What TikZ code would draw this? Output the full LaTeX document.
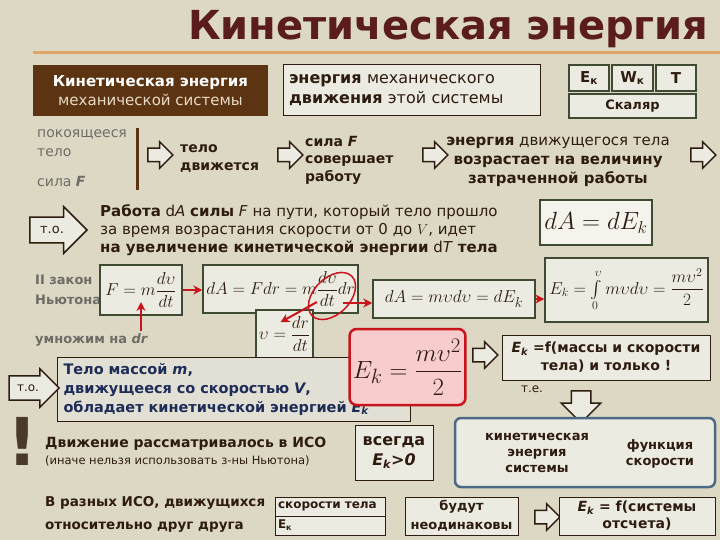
\documentclass[tikz,border=0pt]{standalone}
\usepackage{amsmath}
\usepackage{fontspec}
\setmainfont{DejaVu Sans}
\usetikzlibrary{shapes.arrows,shapes.geometric,arrows.meta}
\definecolor{bgc}{HTML}{DCD8C4}
\definecolor{titc}{HTML}{5A1C1C}
\definecolor{linc}{HTML}{E0A464}
\definecolor{brnc}{HTML}{5C3412}
\definecolor{lbrc}{HTML}{E8DCC8}
\definecolor{boxc}{HTML}{ECEBE2}
\definecolor{whtc}{HTML}{F4F3EC}
\definecolor{tbxc}{HTML}{E2E0D4}
\definecolor{frmc}{HTML}{3F4A32}
\definecolor{txtc}{HTML}{2E1C10}
\definecolor{gryc}{HTML}{6E6C66}
\definecolor{redc}{HTML}{C8141C}
\definecolor{pnkc}{HTML}{F8CCCC}
\definecolor{navc}{HTML}{1E2C58}
\definecolor{bluc}{HTML}{4C6A86}
\definecolor{exclc}{HTML}{4A3A2A}
\tikzset{
	plate/.style={draw=frmc,line width=1.5pt,fill=boxc,inner sep=2pt},
	cellbox/.style={draw=txtc,line width=1pt,fill=boxc,inner sep=2pt},
	hollow/.style={single arrow,draw=txtc,fill=boxc,line width=1.5pt,inner xsep=0pt,inner ysep=6pt,minimum height=25pt,single arrow head extend=6.5pt},
	redarr/.style={draw=redc,line width=2pt,-{Stealth[length=9pt,width=9pt]}},
	lbl/.style={inner sep=0pt,align=left,anchor=west},
}
\begin{document}
\begin{tikzpicture}[x=1pt,y=-1pt,every node/.append style={text=txtc}]
	\fill[bgc] (0,0) rectangle (720,540);
	\useasboundingbox (0,0) rectangle (720,540);
	\node[anchor=east,text=titc,font=\fontsize{40}{45}\selectfont\bfseries] (title) at (712,29) {Кинетическая энергия};
	\draw[linc,line width=3pt] (33,53) -- (720,53);
	\node[fill=brnc,minimum width=235,minimum height=51,align=center,text=white,font=\fontsize{15}{19}\selectfont] (kin) at (150.5,90.5) {\textbf{Кинетическая энергия}\\\textcolor{lbrc}{механической системы}};
	\node[cellbox,minimum width=257,minimum height=51,text width=245,align=left,font=\fontsize{16}{20}\selectfont] (mech) at (411.5,90.5) {\textbf{энергия} механического\\\textbf{движения} этой системы};
	\node[plate,minimum width=40,minimum height=26,font=\fontsize{15}{18}\selectfont\bfseries] (ek) at (589,78) {E\textsubscript{к}};
	\node[plate,minimum width=41,minimum height=26,font=\fontsize{15}{18}\selectfont\bfseries] (wk) at (632.5,78) {W\textsubscript{к}};
	\node[plate,minimum width=40,minimum height=26,font=\fontsize{15}{18}\selectfont\bfseries] (tt) at (676,78) {T};
	\node[plate,minimum width=127,minimum height=24,font=\fontsize{13}{16}\selectfont\bfseries] (scal) at (632.5,106) {Скаляр};

	\node[lbl,text=gryc,font=\fontsize{14}{19}\selectfont] (rest) at (37,143) {покоящееся\\тело};
	\node[lbl,text=gryc,font=\fontsize{14}{19}\selectfont] (force) at (37,181) {сила \textbf{\textit{F}}};
	\draw[brnc,line width=3pt] (137,128) -- (137,190);
	\node[hollow] (a1) at (157,155) {};
	\node[lbl,font=\fontsize{14}{18}\selectfont\bfseries] (moves) at (180,159) {тело\\движется};
	\node[hollow] (a2) at (287,155) {};
	\node[lbl,font=\fontsize{14}{17.5}\selectfont\bfseries] (work) at (305,160) {сила \textit{F}\\совершает\\работу};
	\node[hollow] (a3) at (432,155) {};
	\node[align=center,font=\fontsize{15}{19}\selectfont] (grow) at (558,162) {\textbf{энергия} движущегося тела\\\textbf{возрастает на величину}\\\textbf{затраченной работы}};
	\node[hollow] (a4) at (700,155) {};

	\node[hollow,minimum height=57,inner ysep=8.5pt,inner xsep=4pt,single arrow head extend=10.5pt,font=\fontsize{13}{15}\selectfont] (to1) at (52,230) {т.о.};
	\node[lbl,font=\fontsize{15}{18}\selectfont] (dawork) at (100,230) {\textbf{Работа} d\textit{A} \textbf{силы} \textit{F} на пути, который тело прошло\\за время возрастания скорости от 0 до $V$, идет\\\textbf{на увеличение кинетической энергии} d\textit{T} \textbf{тела}};
	\node[plate,fill=whtc,minimum width=112,minimum height=45,font=\fontsize{24}{28}\selectfont] (dade) at (596,222.5) {$dA=dE_k$};

	\node[lbl,text=gryc,font=\fontsize{13}{20}\selectfont\bfseries] (newton) at (35,290) {II закон\\Ньютона};
	\node[lbl,text=gryc,font=\fontsize{13}{18}\selectfont\bfseries] (mult) at (35,340) {умножим на \textit{dr}};
	\node[plate,minimum width=82,minimum height=50,font=\fontsize{19}{23}\selectfont] (fm) at (141,290) {$F=m\dfrac{d\upsilon}{dt}$};
	\node[plate,minimum width=155,minimum height=48,font=\fontsize{17}{21}\selectfont] (fdr) at (280.5,289) {$dA=Fdr=m\dfrac{d\upsilon}{dt}dr$};
	\node[plate,minimum width=57,minimum height=48,font=\fontsize{17}{21}\selectfont] (vel) at (284.5,334) {$\upsilon=\dfrac{dr}{dt}$};
	\node[plate,minimum width=162,minimum height=38,font=\fontsize{19}{23}\selectfont] (dam) at (454,299) {$dA=m\upsilon d\upsilon=dE_k$};
	\node[plate,minimum width=163,minimum height=64,font=\fontsize{17}{21}\selectfont] (intg) at (626.5,290) {$E_k=\int\limits_0^{\upsilon}m\upsilon d\upsilon=\dfrac{m\upsilon^2}{2}$};
	\node[ellipse,draw=redc,line width=1.5pt,minimum width=56,minimum height=36,rotate=45] (loop) at (332,296) {};
	\coordinate (multop) at (141,331);
	\coordinate (mtip) at (141,302);
	\draw[redarr] (multop) -- (mtip);
	\draw[redarr] (fm.east) -- (fm.east -| fdr.west);
	\coordinate (loopin) at (317,302);
	\draw[redarr] (loopin) -- ([shift={(-4,13)}]vel.north);
	\coordinate (loopout) at (343,303);
	\draw[redarr] (loopout) -- (loopout -| dam.west);
	\draw[redarr] (dam.east) -- (dam.east -| intg.west);

	\node[draw=txtc,line width=1pt,fill=tbxc,minimum width=353,minimum height=64,text width=340,align=left,text=navc,font=\fontsize{14.5}{19}\selectfont\bfseries] (body) at (233.5,389) {Тело массой \textit{m},\\движущееся со скоростью \textit{V},\\обладает кинетической энергией \textit{E\textsubscript{k}}};
	\node[hollow,minimum height=50,inner ysep=8pt,inner xsep=3pt,single arrow head extend=7pt,font=\fontsize{12}{14}\selectfont] (to2) at (28,388) {т.о.};
	\node[draw=redc,line width=2.5pt,fill=pnkc,rounded corners=7pt,minimum width=115,minimum height=76,font=\fontsize{28}{32}\selectfont] (ekf) at (407.5,367) {$E_k=\dfrac{m\upsilon^2}{2}$};
	\node[hollow] (a5) at (482,355) {};
	\node[cellbox,minimum width=208,minimum height=45,align=center,font=\fontsize{14}{18}\selectfont\bfseries] (fmass) at (606,357.5) {\textit{E\textsubscript{k}} =f(массы и скорости\\тела) и только !};
	\node[font=\fontsize{12}{14}\selectfont] (ie) at (532,389) {т.е.};
	\node[hollow,rotate=-90,minimum height=32,inner ysep=9pt,single arrow head extend=10pt] (a7) at (581,402) {};

	\node[text=exclc,font=\fontsize{66}{70}\selectfont\bfseries] (excl) at (23,441) {!};
	\node[lbl,font=\fontsize{14}{17}\selectfont\bfseries] (iso) at (45,444) {Движение рассматривалось в ИСО};
	\node[lbl,font=\fontsize{11.5}{14}\selectfont] (iso2) at (45,461) {(иначе нельзя использовать з-ны Ньютона)};
	\node[cellbox,minimum width=78,minimum height=55,align=center,font=\fontsize{16}{20}\selectfont\bfseries] (always) at (394,452.5) {всегда\\\textit{E\textsubscript{k}>0}};
	\node[draw=bluc,line width=2.5pt,fill=boxc,rounded corners=6pt,minimum width=260,minimum height=69] (sysb) at (585,452.5) {};
	\node[align=center,font=\fontsize{13}{16}\selectfont\bfseries] (kes) at (537,453) {кинетическая\\энергия\\системы};
	\node[align=center,font=\fontsize{13}{16}\selectfont\bfseries] (fsp) at (660,454) {функция\\скорости};

	\node[lbl,font=\fontsize{13.5}{23}\selectfont\bfseries] (frames) at (45,514.5) {В разных ИСО, движущихся\\относительно друг друга};
	\node[cellbox,minimum width=110,minimum height=19,text width=104,align=left,font=\fontsize{12}{14}\selectfont\bfseries] (vt) at (330,506.5) {скорости тела};
	\node[cellbox,minimum width=110,minimum height=19,text width=104,align=left,font=\fontsize{12}{14}\selectfont\bfseries] (et) at (330,525.5) {E\textsubscript{к}};
	\node[cellbox,minimum width=113,minimum height=38,align=center,font=\fontsize{13}{19}\selectfont\bfseries] (diff) at (461.5,516) {будут\\неодинаковы};
	\node[hollow] (a6) at (544,517) {};
	\node[cellbox,minimum width=156,minimum height=38,align=center,font=\fontsize{14}{17}\selectfont\bfseries] (fref) at (637,516) {\textit{E\textsubscript{k}} = f(системы\\отсчета)};
\end{tikzpicture}
\end{document}
